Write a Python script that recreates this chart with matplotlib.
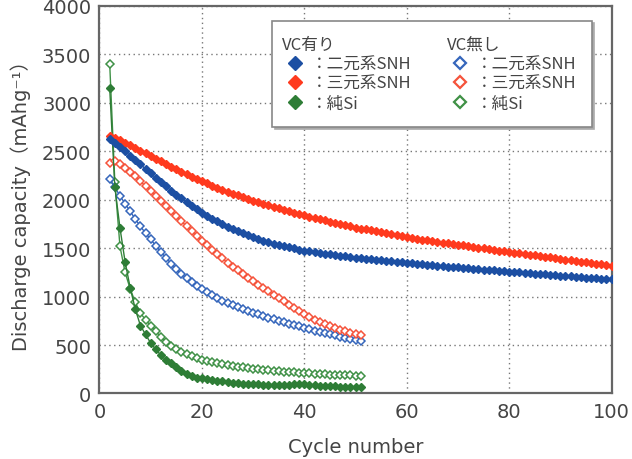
import matplotlib
matplotlib.use('Agg')
import matplotlib.pyplot as plt
from matplotlib.lines import Line2D

plt.rcParams['font.family'] = ['DejaVu Sans', 'Noto Sans CJK JP']

# ---------------- data ----------------
cycles_long = list(range(2, 101))   # VC有り (with VC)
cycles_short = list(range(2, 52))   # VC無し (without VC)

vc_binary = [2630, 2590, 2545, 2500, 2455, 2410, 2365, 2318, 2272,
             2226, 2181, 2137, 2094, 2053, 2013, 1975, 1938, 1902, 1868,
             1836, 1805, 1776, 1748, 1722, 1697, 1674, 1652, 1632, 1613,
             1595, 1578, 1562, 1547, 1533, 1520, 1508, 1497, 1486, 1476,
             1467, 1458, 1450, 1442, 1435, 1428, 1421, 1415, 1409, 1403,
             1397, 1391, 1386, 1380, 1375, 1370, 1364, 1359, 1354, 1349,
             1344, 1339, 1334, 1329, 1324, 1319, 1315, 1310, 1305, 1301,
             1296, 1292, 1287, 1283, 1278, 1274, 1270, 1265, 1261, 1257,
             1253, 1249, 1245, 1241, 1237, 1233, 1229, 1225, 1221, 1217,
             1213, 1209, 1205, 1201, 1197, 1193, 1189, 1185, 1181, 1177]

vc_ternary = [2658, 2636, 2612, 2587, 2561, 2535, 2508, 2480, 2452,
              2424, 2396, 2368, 2341, 2314, 2288, 2262, 2237, 2213, 2190,
              2168, 2146, 2125, 2104, 2084, 2064, 2045, 2026, 2008, 1990,
              1974, 1958, 1942, 1926, 1911, 1896, 1881, 1866, 1852, 1838,
              1825, 1812, 1799, 1786, 1774, 1762, 1749, 1737, 1725, 1713,
              1703, 1693, 1683, 1673, 1663, 1653, 1643, 1633, 1623, 1613,
              1605, 1597, 1589, 1581, 1573, 1565, 1558, 1550, 1543, 1535,
              1528, 1520, 1513, 1506, 1498, 1491, 1484, 1476, 1469, 1462,
              1455, 1448, 1441, 1433, 1426, 1419, 1412, 1405, 1397, 1390,
              1383, 1376, 1369, 1361, 1354, 1347, 1340, 1333, 1325, 1318]

vc_si = [3150, 2130, 1710, 1360, 1090, 870, 700, 610, 520,
         455, 395, 345, 310, 272, 228, 200, 180, 165, 155,
         146, 138, 131, 124, 118, 112, 107, 103, 99, 96,
         93, 91, 89, 87, 86, 85, 89, 100, 103, 97,
         91, 86, 82, 79, 76, 74, 72, 70, 68, 66, 64]

novc_binary = [2211, 2130, 2040, 1960, 1880, 1800, 1725, 1655, 1590,
               1525, 1460, 1400, 1340, 1285, 1235, 1190, 1150, 1110, 1075,
               1043, 1013, 985, 959, 935, 912, 891, 871, 852, 834,
               817, 800, 784, 768, 752, 737, 722, 707, 692, 678,
               664, 650, 637, 624, 611, 599, 587, 575, 563, 552, 541]

novc_ternary = [2383, 2400, 2370, 2330, 2290, 2240, 2190, 2140, 2090,
                2040, 1990, 1935, 1885, 1830, 1780, 1725, 1675, 1625, 1576,
                1530, 1485, 1440, 1395, 1350, 1310, 1270, 1230, 1195, 1160,
                1125, 1090, 1055, 1020, 985, 950, 917, 885, 852, 820,
                790, 763, 738, 715, 694, 675, 658, 643, 629, 616, 605]

novc_si = [3400, 2180, 1520, 1250, 1080, 940, 830, 760, 700,
           640, 585, 535, 495, 460, 430, 405, 385, 365, 350,
           335, 322, 311, 301, 293, 285, 277, 270, 263, 257,
           251, 245, 240, 235, 230, 226, 222, 218, 214, 210,
           207, 204, 201, 198, 196, 193, 191, 189, 187, 185, 183]

legend_labels = ['：二元系SNH', '：三元系SNH', '：純Si']
header_labels = ['VC有り', 'VC無し']

x_ticks = [0, 20, 40, 60, 80, 100]
y_ticks = [0, 500, 1000, 1500, 2000, 2500, 3000, 3500, 4000]

# ---------------- styling ----------------
c_blue_f, c_red_f, c_green_f = '#1c4fa3', '#ff3a1e', '#2e7d36'
c_blue_o, c_red_o, c_green_o = '#3566bb', '#f5533b', '#3f9146'
text_c = '#444444'

fig = plt.figure(figsize=(6.32, 4.6), dpi=100)
ax = fig.add_axes([0.1574, 0.1424, 0.8103, 0.8424])

ms_f, ms_o = 4.3, 3.7
# open-marker series (VC無し)
ax.plot(cycles_short, novc_si, color=c_green_o, lw=1.0, marker='D', ms=ms_o,
        mfc='white', mec=c_green_o, mew=1.1, zorder=3)
ax.plot(cycles_short, novc_binary, color=c_blue_o, lw=1.0, marker='D', ms=ms_o,
        mfc='white', mec=c_blue_o, mew=1.1, zorder=3)
ax.plot(cycles_short, novc_ternary, color=c_red_o, lw=1.0, marker='D', ms=ms_o,
        mfc='white', mec=c_red_o, mew=1.1, zorder=3)
# filled series (VC有り)
ax.plot(cycles_short, vc_si, color=c_green_f, lw=1.0, marker='D', ms=ms_f,
        mfc=c_green_f, mec=c_green_f, zorder=4)
ax.plot(cycles_long, vc_ternary, color=c_red_f, lw=1.0, marker='D', ms=ms_f,
        mfc=c_red_f, mec=c_red_f, zorder=4)
ax.plot(cycles_long, vc_binary, color=c_blue_f, lw=1.0, marker='D', ms=ms_f,
        mfc=c_blue_f, mec=c_blue_f, zorder=4)

ax.set_xlim(0, 100)
ax.set_ylim(0, 4000)
ax.set_xticks(x_ticks)
ax.set_yticks(y_ticks)
ax.tick_params(length=0, labelsize=14, labelcolor=text_c, pad=6)
ax.grid(True, linestyle=(0, (1, 2.5)), color='#777777', lw=1.0)
for s in ax.spines.values():
    s.set_color('#666666')
    s.set_linewidth(1.6)

ax.set_xlabel('Cycle number', fontsize=14, color=text_c, labelpad=12)
ax.set_ylabel('Discharge capacity（mAhg⁻¹）', fontsize=14, color=text_c,
              labelpad=8, family=['DejaVu Sans', 'Noto Sans CJK JP'])

# ---------------- legend ----------------
blank = Line2D([], [], linestyle='none', marker=None)
h_vc = [Line2D([], [], linestyle='none', marker='D', ms=7, mfc=c, mec=c)
        for c in (c_blue_f, c_red_f, c_green_f)]
h_novc = [Line2D([], [], linestyle='none', marker='D', ms=6.5, mfc='white',
                 mec=c, mew=1.6) for c in (c_blue_o, c_red_o, c_green_o)]
handles = [blank] + h_vc + [blank] + h_novc
labels = [' '] + legend_labels + [' '] + legend_labels
leg = ax.legend(handles, labels, ncol=2, loc='upper left',
                bbox_to_anchor=(0.337, 0.962), borderaxespad=0,
                frameon=True, fancybox=False, edgecolor='#888888',
                prop={'family': ['Noto Sans CJK JP'], 'size': 12},
                handlelength=1.0, handletextpad=0.45, columnspacing=2.4,
                labelspacing=0.16, borderpad=0.9,
                shadow={'color': '#aaaaaa', 'alpha': 1.0})
leg.get_frame().set_linewidth(1.2)
leg.set_zorder(10)
for t in leg.get_texts():
    t.set_color(text_c)

fig.canvas.draw()
renderer = fig.canvas.get_renderer()
texts = leg.get_texts()
lh = leg.legend_handles
for hdr_idx, first_idx, hdr in ((0, 1, header_labels[0]), (4, 5, header_labels[1])):
    mb = lh[first_idx].get_window_extent(renderer)
    tb = texts[hdr_idx].get_window_extent(renderer)
    x_fig = mb.x0 / fig.bbox.width
    y_fig = (tb.y0 + tb.y1) / 2 / fig.bbox.height
    fig.text(x_fig, y_fig, hdr, ha='left', va='center', fontsize=12,
             color=text_c, family=['Noto Sans CJK JP'], zorder=11)

fig.savefig('out.png', dpi=100)
